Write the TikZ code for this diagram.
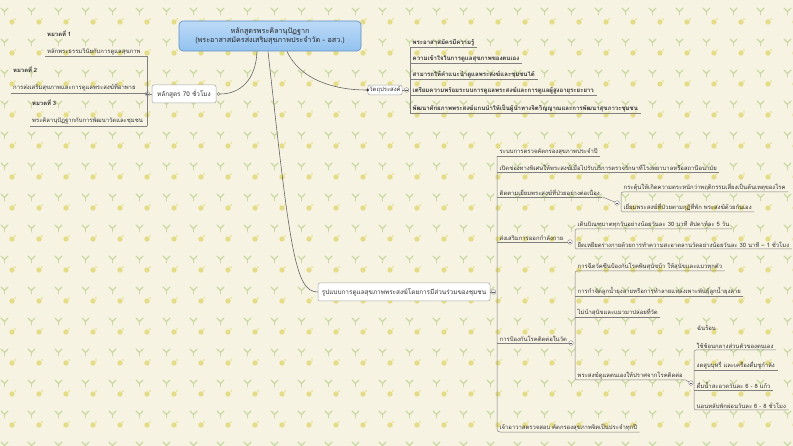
\documentclass[tikz,border=0pt]{standalone}
\usepackage{fontspec}
\newfontfamily\thaifont[Script=Thai]{Loma}
\usetikzlibrary{calc}
\definecolor{bgc}{HTML}{F6F3E3}
\definecolor{moty}{HTML}{E4DC86}
\definecolor{motg}{HTML}{CBD8A2}
\definecolor{rootedge}{HTML}{5E8EC6}
\definecolor{roottop}{HTML}{BCDAF7}
\definecolor{rootbot}{HTML}{92C2EF}
\definecolor{ink}{HTML}{333333}
\tikzset{
  base/.style={font=\thaifont\fontsize{5.9}{7}\selectfont, text=ink},
  rootbox/.style={font=\thaifont\fontsize{7.2}{9.5}\selectfont, text=black!85, draw=rootedge, line width=0.6pt, rounded corners=4pt, top color=roottop, bottom color=rootbot, minimum width=182pt, minimum height=30pt, align=center, inner sep=2pt},
  topicbox/.style={font=\thaifont\fontsize{6.4}{7.5}\selectfont, text=ink, draw=black!35, fill=white, rounded corners=2pt, inner sep=2pt, line width=0.5pt},
  rtopic/.style={base, anchor=south west, inner xsep=2.5pt, inner ysep=1.2pt},
  btopic/.style={rtopic, font=\thaifont\bfseries\fontsize{6.05}{7.2}\selectfont},
  ltopic/.style={base, anchor=south west, align=left, inner xsep=2pt, inner ysep=1.5pt},
  uline/.style={draw=black!50, line width=0.5pt},
  conn/.style={draw=black!60, line width=0.6pt},
  knob/.style={circle, draw=black!50, fill=white, inner sep=0pt, minimum size=4.6pt, line width=0.4pt, path picture={\draw[black!65, line width=0.4pt] ([xshift=-1.3pt]path picture bounding box.center) -- ([xshift=1.3pt]path picture bounding box.center);}},
  endknob/.style={circle, draw=black!50, fill=white, inner sep=0pt, minimum size=3pt, line width=0.4pt},
  dot/.style={circle, fill=black!80, inner sep=0pt, minimum size=3pt},
}
\newcommand\topicul[1]{\draw[uline] (#1.south west) -- (#1.south east);}
\begin{document}
\begin{tikzpicture}[x=1pt,y=-1pt]
\fill[bgc] (0,0) rectangle (793,446);
\useasboundingbox (0,0) rectangle (793,446);
\foreach \i in {0,...,29}{\foreach \j in {0,...,14}{
  \fill[moty] ({\i*27+12},{\j*31+22}) circle (2.7pt);
  \fill[moty!70] ({\i*27+15},{\j*31+19}) circle (1.4pt);
  \draw[motg,line width=1.1pt,line cap=round] ({\i*27+1},{\j*31+8}) -- ++(3.5,3.5) -- ++(3.5,-3.5);
  \draw[motg,line width=0.8pt,line cap=round] ({\i*27+4.5},{\j*31+11.5}) -- ++(0,3.5);
}}
% root
\node[rootbox] (root) at (270,36) {หลักสูตรพระคิลานุปัฏฐาก\\(พระอาสาสมัครส่งเสริมสุขภาพประจำวัด - อสว.)};
% left branch
\node[topicbox, minimum width=64pt, minimum height=18pt] (hl) at (184,94) {หลักสูตร 70 ชั่วโมง};
\node[knob] (hlk) at (147.5,94) {};
\node[endknob] (hlr) at (218.5,94) {};
\node[ltopic, text width=98pt] (c1) at (45,56.5) {\textbf{หมวดที่ 1}\\[10pt]หลักพระธรรมวินัยกับการดูแลสุขภาพ};
\node[ltopic, text width=132pt] (c2) at (11,93) {\textbf{หมวดที่ 2}\\[10pt]การส่งเสริมสุขภาพและการดูแลพระสงฆ์ที่อาพาธ};
\node[ltopic, text width=113pt] (c3) at (30,126) {\textbf{หมวดที่ 3}\\[10pt]พระคิลานุปัฏฐากกับการพัฒนาวัดและชุมชน};
\topicul{c1}\topicul{c2}\topicul{c3}
\draw[uline] (c1.south east) -- (c3.south east);
\draw[uline] (hlk.east) -- (hl.west);
\draw[conn] ($(root.south)+(-13,0)$) .. controls (256,80) and (240,94) .. (hlr.east);
% objectives
\node[topicbox, font=\thaifont\fontsize{5.9}{7}\selectfont, inner sep=1.5pt] (obj) at (385,90) {วัตถุประสงค์};
\node[knob] (objk) at (406.5,90) {};
\node[dot] (objd) at (obj.west) {};
\draw[conn] ($(root.south)+(17,0)$) .. controls (300,80) and (335,90) .. (objd.west);
\draw[uline] (obj.east) -- (objk.west);
\node[btopic] (o1) at (410,47) {พระอาสาสมัครมีความรู้};
\node[btopic] (o2) at (410,63) {ความเข้าใจในการดูแลสุขภาพของตนเอง};
\node[btopic] (o3) at (410,79) {สามารถให้คำแนะนำดูแลพระสงฆ์และชุมชนได้};
\node[btopic] (o4) at (410,95) {เตรียมความพร้อมระบบการดูแลพระสงฆ์และการดูแลผู้สูงอายุระยะยาว};
\node[btopic] (o5) at (410,113) {พัฒนาศักยภาพพระสงฆ์แกนนำให้เป็นผู้นำทางจิตวิญญาณและการพัฒนาสุขภาวะชุมชน};
\topicul{o1}\topicul{o2}\topicul{o3}\topicul{o4}\topicul{o5}
\draw[uline] (o1.south west) -- (o5.south west);
% bottom branch
\node[topicbox, minimum width=172pt, minimum height=18pt] (main) at (404,292) {รูปแบบการดูแลสุขภาพพระสงฆ์โดยการมีส่วนร่วมของชุมชน};
\node[knob] (maink) at (493.5,292) {};
\draw[conn] ($(root.south)+(-2,0)$) .. controls (290,250) and (295,292) .. (main.west);
\draw[uline] (main.east) -- (maink.west);
\node[rtopic] (b1) at (497,156) {ระบบการตรวจคัดกรองสุขภาพประจำปี};
\node[rtopic] (b2) at (497,172) {เปิดช่องทางพิเศษให้พระสงฆ์เมื่อไปรับบริการตรวจรักษาที่โรงพยาบาลหรือสถานีอนามัย};
\node[rtopic] (b3) at (497,197) {ติดตามเยี่ยมพระสงฆ์ที่ป่วยอย่างต่อเนื่อง};
\node[rtopic] (b4) at (497,242) {ส่งเสริมการออกกำลังกาย};
\node[rtopic] (b5) at (497,343) {การป้องกันโรคติดต่อในวัด};
\node[rtopic] (b6) at (497,432) {เจ้าอาวาสตรวจสอบ คัดกรองสุขภาพจิตเป็นประจำทุกปี};
\topicul{b1}\topicul{b2}\topicul{b3}\topicul{b4}\topicul{b5}
\draw[uline, rounded corners=3pt] (b1.south west) -- (b6.south west) -- (b6.south east);
% follow-up children
\node[knob] (b3k) at (617,203) {};
\node[rtopic] (d1) at (621,192) {กระตุ้นให้เกิดความตระหนักว่าพฤติกรรมเสี่ยงเป็นต้นเหตุของโรค};
\node[rtopic] (d2) at (621,212) {เยี่ยมพระสงฆ์ที่ป่วยตามกุฏิที่พัก พระสงฆ์ด้วยกันเอง};
\draw[uline, rounded corners=2pt] (d1.south east) -- (d1.south west) -- (d2.south west) -- (d2.south east);
\draw[uline] (b3.south east) -- (b3k);
% exercise children
\node[knob] (b4k) at (570,242) {};
\node[rtopic] (e1) at (575,229) {เดินบิณฑบาตทุกวันอย่างน้อยวันละ 30 นาที สัปดาห์ละ 5 วัน};
\node[rtopic] (e2) at (575,249) {ยืดเหยียดร่างกายด้วยการทำความสะอาดลานวัดอย่างน้อยวันละ 30 นาที – 1 ชั่วโมง};
\draw[uline, rounded corners=2pt] (e1.south east) -- (e1.south west) -- (e2.south west) -- (e2.south east);
\draw[uline] (b4.south east) -- (b4k.west);
% prevention children
\node[knob] (b5k) at (571,343) {};
\node[rtopic] (f1) at (575,271) {การฉีดวัคซีนป้องกันโรคพิษสุนัขบ้า ให้สุนัขและแมวทุกตัว};
\node[rtopic] (f2) at (575,296) {การกำจัดลูกน้ำยุงลายหรือการทำลายแหล่งเพาะพันธุ์ลูกน้ำยุงลาย};
\node[rtopic] (f3) at (575,317) {ไม่นำสุนัขและแมวมาปล่อยที่วัด};
\node[rtopic] (f4) at (575,380) {พระสงฆ์ดูแลตนเองให้ปราศจากโรคติดต่อ};
\topicul{f2}\topicul{f3}
\draw[uline, rounded corners=2pt] (f1.south east) -- (f1.south west) -- (f4.south west) -- (f4.south east);
\draw[uline] (b5.south east) -- (b5k.west);
% self care children
\node[knob] (f4k) at (691,383) {};
\node[base, anchor=west, inner sep=0pt] (g0) at (697,328) {ฉันร้อน};
\node[rtopic] (g1) at (694,350) {ใช้ช้อนกลางส่วนตัวของตนเอง};
\node[rtopic] (g2) at (694,370) {งดสูบบุหรี่ และเครื่องดื่มชูกำลัง};
\node[rtopic] (g3) at (694,390) {ดื่มน้ำสะอาดวันละ 6 - 8 แก้ว};
\node[rtopic] (g4) at (694,410) {นอนหลับพักผ่อนวันละ 6 - 8 ชั่วโมง};
\topicul{g2}\topicul{g3}
\draw[uline, rounded corners=2pt] (g1.south east) -- (g1.south west) -- (g4.south west) -- (g4.south east);
\draw[uline] (f4.south east) -- (f4k);
\end{tikzpicture}
\end{document}
